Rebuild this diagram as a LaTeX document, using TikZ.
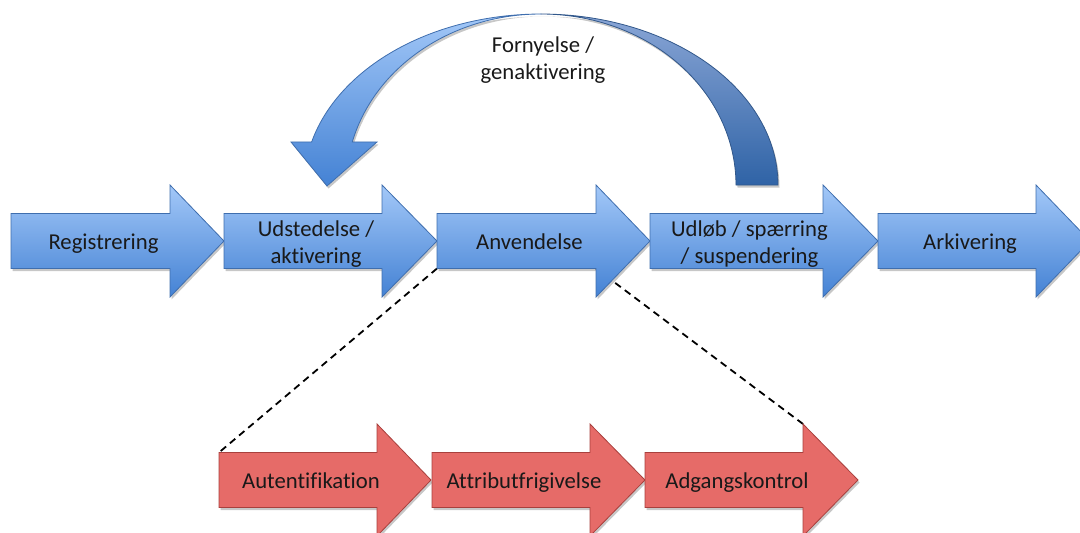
\documentclass[tikz,border=0pt]{standalone}
\usepackage{fontspec}
\setmainfont{Carlito}[Ligatures=NoCommon]
\usetikzlibrary{shadows,backgrounds}
\definecolor{blueTop}{HTML}{A3C8F8}
\definecolor{blueBot}{HTML}{4482D4}
\definecolor{blueLine}{HTML}{3F6EAE}
\definecolor{darkTop}{HTML}{8AA6D6}
\definecolor{darkBot}{HTML}{2F63A6}
\definecolor{redFill}{HTML}{E66B68}
\definecolor{redLine}{HTML}{A8403D}
\newcommand{\lstrut}{\rule[-5pt]{0pt}{27pt}}
\tikzset{
  shade/.style={drop shadow={shadow xshift=1.5pt,shadow yshift=-2.5pt,opacity=0.22,fill=black}},
  bluearrow/.style={draw=blueLine, line width=0.8pt, top color=blueTop, bottom color=blueBot, shade},
  redarrow/.style={draw=redLine, line width=0.8pt, fill=redFill, shade},
  darkband/.style={draw=blueLine!80!black, line width=0.8pt, top color=darkTop, bottom color=darkBot, shade},
  lightband/.style={draw=blueLine, line width=0.8pt, top color=blueTop, bottom color=blueBot, shade},
  lbl/.style={font=\fontsize{22.7}{27}\selectfont, align=center, inner sep=0pt, text=black!90},
  guide/.style={dashed, line width=1.8pt, dash pattern=on 7pt off 5pt, black},
}
\newcommand{\flowarrow}[7]{%
  \path[#2] (#3,#6-27.5) -- (#4,#6-27.5) -- (#4,#6-56) -- (#5,#6) -- (#4,#6+56) -- (#4,#6+27.5) -- (#3,#6+27.5) -- cycle;
  \coordinate (#1-nw) at (#3,#6-27.5);
  \coordinate (#1-sw) at (#3,#6+27.5);
  \coordinate (#1-se) at (#4,#6+27.5);
  \coordinate (#1-ht) at (#4,#6-56);
  \node[lbl] (#1) at ({(#3+#4)/2+13},#6) {#7};
}
\begin{document}
\begin{tikzpicture}[x=1pt,y=-1pt]
\useasboundingbox (0,0) rectangle (1080,533);
% curved arrow: back (dark) part
\path[darkband] plot[domain=90:0,samples=60] ({541+237*cos(\x)},{185-171*sin(\x)})
  -- (736,185) -- plot[domain=0:90,samples=60] ({541+195*cos(\x)},{185-171*sin(\x)}) -- cycle;
% curved arrow: front (light) part with head
\path[lightband] plot[domain=90:165.4,samples=60] ({541+237*cos(\x)},{185-171*sin(\x)})
  -- (291,142) -- (327,186) -- (377,142)
  -- plot[domain=165.4:90,samples=60] ({541+195*cos(\x)},{185-171*sin(\x)}) -- cycle;
\node[lbl] (renew) at (543,57) {\lstrut Fornyelse /\\\lstrut genaktivering};
% main flow
\flowarrow{reg}{bluearrow}{11}{170}{224}{241}{\lstrut Registrering}
\flowarrow{udst}{bluearrow}{224}{382}{437}{241}{\lstrut Udstedelse /\\\lstrut aktivering}
\flowarrow{anv}{bluearrow}{437}{596}{650}{241}{\lstrut Anvendelse}
\flowarrow{udl}{bluearrow}{650}{823}{878}{241}{\lstrut Udløb / spærring\\\lstrut / suspendering}
\flowarrow{ark}{bluearrow}{878}{1036}{1090}{241}{\lstrut Arkivering}
% detail flow
\flowarrow{aut}{redarrow}{219}{377}{431}{480}{\lstrut Autentifikation}
\flowarrow{attr}{redarrow}{432}{590}{645}{480}{\lstrut Attributfrigivelse}
\flowarrow{adg}{redarrow}{645}{803}{858}{480}{\lstrut Adgangskontrol}
\begin{scope}[on background layer]
\draw[guide] (anv-sw) -- (aut-nw);
\draw[guide] (anv-se) -- (adg-ht);
\end{scope}
\end{tikzpicture}
\end{document}
